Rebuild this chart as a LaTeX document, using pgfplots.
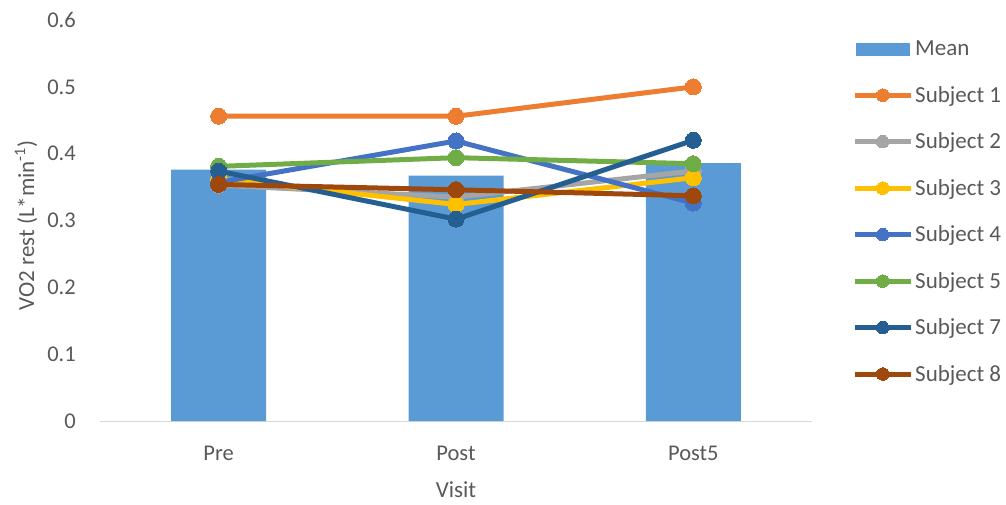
\documentclass[border=0pt]{standalone}
\usepackage{fontspec}
\setmainfont{Carlito}
\usepackage{pgfplots}
\pgfplotsset{compat=1.18}
\definecolor{cMean}{HTML}{5B9BD5}
\definecolor{cS1}{HTML}{ED7D31}
\definecolor{cS2}{HTML}{A5A5A5}
\definecolor{cS3}{HTML}{FFC000}
\definecolor{cS4}{HTML}{4472C4}
\definecolor{cS5}{HTML}{70AD47}
\definecolor{cS7}{HTML}{255E91}
\definecolor{cS8}{HTML}{9E480E}
\definecolor{txt}{HTML}{595959}
\definecolor{axl}{HTML}{D9D9D9}
\pgfplotsset{
  subj/.style={color=#1, line width=5pt, mark=*, mark size=8pt, mark options={solid, fill=#1, draw=#1, line width=0pt}},
  linelegend/.style={legend image code/.code={
    \draw[##1, line width=5pt] (0pt,0pt) -- (56pt,0pt);
    \draw[##1, line width=0pt, mark size=6.3pt] plot[mark=*] coordinates {(28pt,0pt)};
  }},
}
\begin{document}
\begin{tikzpicture}
\useasboundingbox (-100pt,-83pt) rectangle (906pt,421pt);
\begin{axis}[
  at={(0pt,0pt)}, anchor=south west,
  scale only axis, width=712pt, height=401pt,
  xmin=-0.5, xmax=2.5, ymin=0, ymax=0.6,
  xtick={0,1,2}, xticklabels={Pre,Post,Post5},
  ytick={0,0.1,0.2,0.3,0.4,0.5,0.6},
  axis x line=bottom, axis y line=left,
  x axis line style={draw=axl, line width=1pt, -},
  y axis line style={draw=none, -},
  major tick length=0pt,
  tick style={draw=none},
  /pgf/number format/.cd, fixed, precision=1, assume math mode=true,
  /pgfplots/.cd,
  yticklabel style={anchor=east, inner sep=0pt, xshift=-24pt, font=\fontsize{22.5}{27}\selectfont, text=txt},
  xticklabel style={anchor=center, inner sep=0pt, yshift=-32pt, font=\fontsize{22.5}{27}\selectfont, text=txt},
  xlabel={Visit},
  ylabel={VO2 rest (L*min\textsuperscript{-1})},
  every axis x label/.style={at={(axis description cs:0.5,0)}, yshift=-69pt, anchor=center, font=\fontsize{23}{27}\selectfont, text=txt},
  every axis y label/.style={at={(axis description cs:-0.1039,0.4875)}, anchor=center, rotate=90, font=\fontsize{23}{27}\selectfont, text=txt},
  legend style={at={(axis description cs:1,1)}, anchor=north west, xshift=40pt, yshift=-19pt, draw=none, fill=none, inner sep=0pt,
    font=\fontsize{23}{27}\selectfont, text=txt, row sep=25pt, column sep=0pt,
    cells={anchor=west}},
  legend cell align=left,
]
\addplot[ybar, bar width=95pt, bar shift=0pt, fill=cMean, draw=none,
  legend image code/.code={\fill[cMean] (1pt,-6.5pt) rectangle (55pt,6.5pt);}]
  coordinates {(0,0.376) (1,0.367) (2,0.386)};
\addlegendentry{Mean}
\addplot[subj=cS1, linelegend] coordinates {(0,0.456) (1,0.456) (2,0.500)};
\addlegendentry{Subject 1}
\addplot[subj=cS2, linelegend] coordinates {(0,0.353) (1,0.335) (2,0.374)};
\addlegendentry{Subject 2}
\addplot[subj=cS3, linelegend] coordinates {(0,0.362) (1,0.324) (2,0.364)};
\addlegendentry{Subject 3}
\addplot[subj=cS4, linelegend] coordinates {(0,0.357) (1,0.419) (2,0.326)};
\addlegendentry{Subject 4}
\addplot[subj=cS5, linelegend] coordinates {(0,0.381) (1,0.394) (2,0.385)};
\addlegendentry{Subject 5}
\addplot[subj=cS7, linelegend] coordinates {(0,0.374) (1,0.302) (2,0.420)};
\addlegendentry{Subject 7}
\addplot[subj=cS8, linelegend] coordinates {(0,0.354) (1,0.346) (2,0.337)};
\addlegendentry{Subject 8}
\end{axis}
\end{tikzpicture}
\end{document}
